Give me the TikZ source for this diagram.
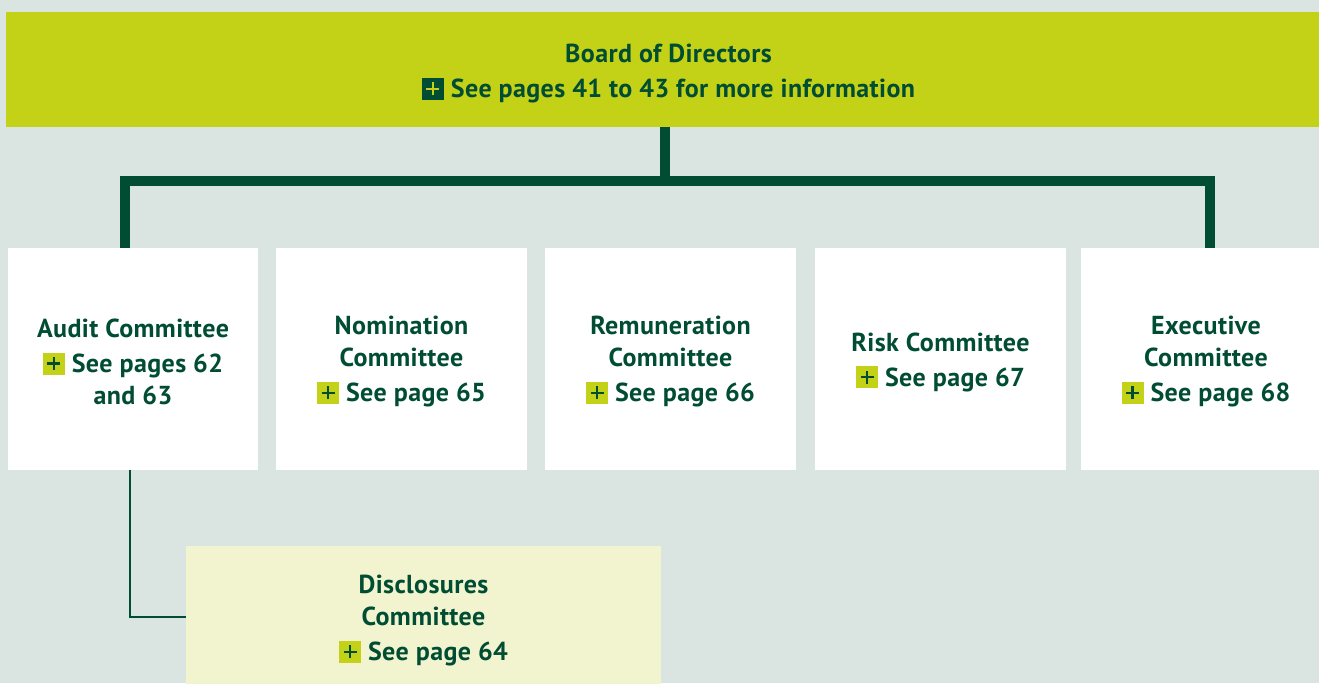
\documentclass[tikz,border=0pt]{standalone}
\usepackage{fontspec}
\setmainfont[LetterSpace=1.5]{PT Sans}
\definecolor{bgc}{HTML}{DAE4E1}
\definecolor{lime}{HTML}{C4D217}
\definecolor{dkgreen}{HTML}{004D33}
\definecolor{pale}{HTML}{F1F4CF}

% small square "+" marker placed before page references
\newcommand\seeicon[2]{\tikz[baseline=2pt]{\fill[#1] (0pt,0pt) rectangle (22pt,22pt);
  \draw[#2,line width=2.4pt] (4.5pt,11pt) -- (17.5pt,11pt) (11pt,4.5pt) -- (11pt,17.5pt);}}

\tikzset{
  label text/.style={text=dkgreen, align=center, inner sep=0pt,
    font=\fontsize{26pt}{32pt}\selectfont\bfseries},
  boardbox/.style={fill=lime, inner sep=0pt, minimum width=1325pt, minimum height=115pt},
  combox/.style={fill=white, inner sep=0pt, minimum width=250.5pt, minimum height=222pt},
  subbox/.style={fill=pale, inner sep=0pt, minimum width=475pt, minimum height=142pt},
  trunk/.style={draw=dkgreen, line width=10pt, line join=miter},
  twig/.style={draw=dkgreen, line width=2.5pt, line join=miter},
}

\begin{document}
\begin{tikzpicture}[x=1pt,y=-1pt]
\useasboundingbox (0,0) rectangle (1319,683);
\clip (0,0) rectangle (1319,683);
\fill[bgc] (0,0) rectangle (1319,683);

% boxes
\node[boardbox] (board) at (668.5,69.5) {};
\node[combox] (audit) at (133,359) {};
\node[combox] (nomin) at (401.5,359) {};
\node[combox] (remun) at (670.5,359) {};
\node[combox] (risk) at (940.5,359) {};
\node[combox] (exec) at (1206,359) {};
\node[subbox] (disc) at (423.5,617) {};

% box texts
\node[label text] (boardtext) at ([yshift=-4.5pt]board.center)
  {Board of Directors\\[3pt]\seeicon{dkgreen}{lime} See pages 41 to 43 for more information};
\node[label text] (audittext) at ([yshift=-3pt]audit.center)
  {Audit Committee\\[3pt]\seeicon{lime}{dkgreen} See pages 62\\and 63};
\node[label text] (nomintext) at ([yshift=-3pt]nomin.center)
  {Nomination\\Committee\\[3pt]\seeicon{lime}{dkgreen} See page 65};
\node[label text] (remuntext) at ([yshift=-3pt]remun.center)
  {Remuneration\\Committee\\[3pt]\seeicon{lime}{dkgreen} See page 66};
\node[label text] (risktext) at ([yshift=-3pt]risk.center)
  {Risk Committee\\[3pt]\seeicon{lime}{dkgreen} See page 67};
\node[label text] (exectext) at ([yshift=-3pt]exec.center)
  {Executive\\Committee\\[3pt]\seeicon{lime}{dkgreen} See page 68};
\node[label text] (disctext) at ([yshift=-4pt]disc.center)
  {Disclosures\\Committee\\[3pt]\seeicon{lime}{dkgreen} See page 64};

% reporting lines
\coordinate (hub) at (665,181);
\draw[trunk] (board.south -| hub) -- (hub);
\draw[trunk] ([xshift=-8.5pt]audit.north) |- (hub) -| ([xshift=4pt]exec.north);
\draw[twig] ([xshift=-3pt]audit.south) |- (disc.west);
\end{tikzpicture}
\end{document}
